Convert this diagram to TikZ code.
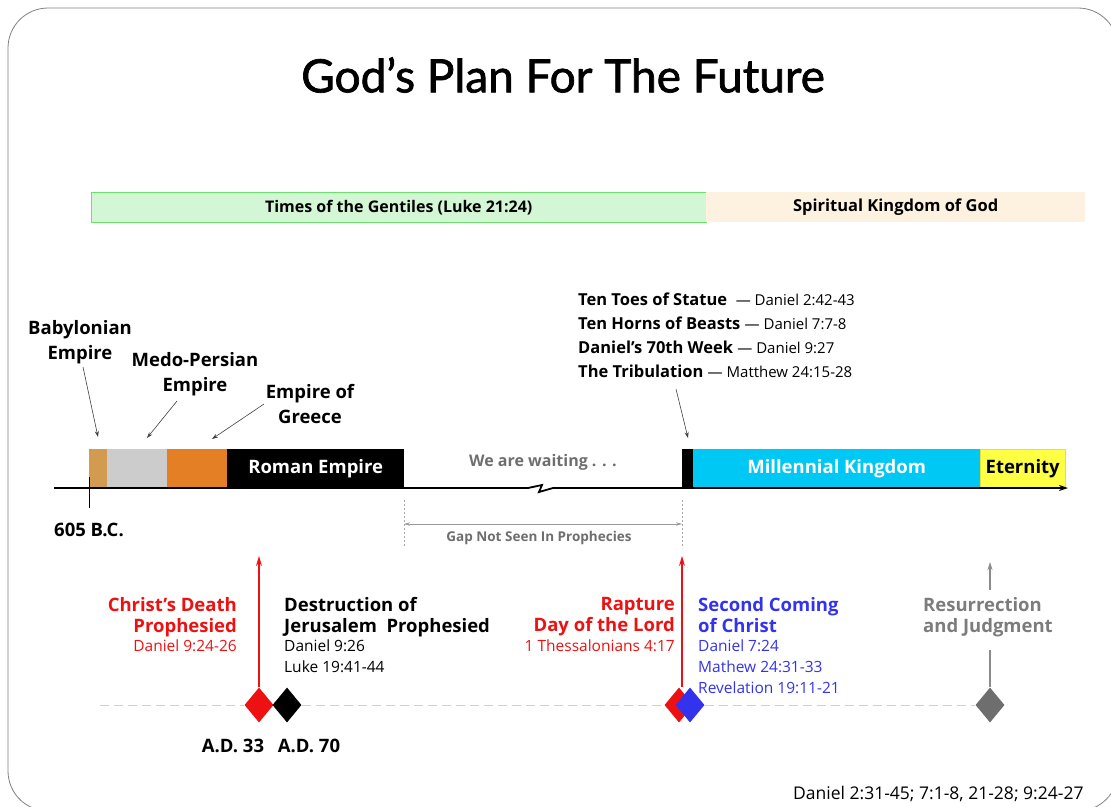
\documentclass[tikz,border=0pt]{standalone}
\usepackage{fontspec}
\setmainfont{Open Sans}
\newfontfamily\titlefont[UprightFeatures={FakeBold=1.5}]{Lato}
\usetikzlibrary{arrows.meta,shapes.geometric}
\definecolor{frame}{HTML}{808080}
\definecolor{gentgreen}{HTML}{D3F6D5}
\definecolor{gentedge}{HTML}{6BE06B}
\definecolor{kingbeige}{HTML}{FDF1DF}
\definecolor{babtan}{HTML}{D39B4F}
\definecolor{medogray}{HTML}{CCCCCC}
\definecolor{greekorange}{HTML}{E47F26}
\definecolor{millcyan}{HTML}{00C8F5}
\definecolor{eteryellow}{HTML}{FFFF44}
\definecolor{eteredge}{HTML}{E2E23A}
\definecolor{waitgray}{HTML}{6E6E6E}
\definecolor{prored}{HTML}{EE1111}
\definecolor{problue}{HTML}{3333EE}
\definecolor{dashgray}{HTML}{D0D0D0}
\newcommand{\passage}[1]{{\mdseries\fontsize{15}{24}\selectfont #1}}
\begin{document}
\begin{tikzpicture}[>=Stealth, x=1pt, y=-1pt, font=\fontsize{18.5}{25}\selectfont\bfseries,
  band/.style={minimum height=30pt, inner sep=0pt, anchor=north west, font=\fontsize{16}{20}\selectfont\bfseries},
  bar/.style={minimum height=39pt, inner sep=0pt, anchor=north west},
  lbl/.style={inner sep=0pt, align=center},
  evname/.style={inner sep=0pt, font=\fontsize{18.5}{21}\selectfont\bfseries},
  evref/.style={inner sep=0pt, font=\fontsize{15.5}{21}\selectfont},
  thin arrow/.style={->, draw=black!75, line width=0.6pt, >={Stealth[length=6pt,width=4pt]}},
  event/.style={diamond, aspect=0.8, minimum width=29pt, minimum height=35pt, inner sep=0pt},
  tall arrow/.style={->, line width=1.2pt, >={Stealth[length=10pt,width=6pt]}}]
\useasboundingbox (0,0) rectangle (1111,806);
\draw[frame, line width=0.8pt, rounded corners=40pt] (8,8) rectangle (1118,811);

% title and the two ages
\node[font=\titlefont\fontsize{46}{50}\selectfont] (title) at (563,75) {God’s Plan For The Future};
\node[band, fill=gentgreen, draw=gentedge, minimum width=615pt] (gentiles) at (91,192) {Times of the Gentiles (Luke 21:24)};
\node[band, fill=kingbeige, minimum width=379pt, font=\fontsize{16.5}{20}\selectfont\bfseries] (spirit) at (706,192) {Spiritual Kingdom of God};

% the time line
\coordinate (tstart) at (54,488);
\coordinate (tend) at (1068,488);
\node[bar, fill=babtan, minimum width=18pt] (bab) at (89,449) {};
\node[bar, fill=medogray, minimum width=60pt] (medo) at (107,449) {};
\node[bar, fill=greekorange, minimum width=60pt] (greek) at (167,449) {};
\node[bar, fill=black, minimum width=177pt, text=white] (rome) at (227,449) {Roman Empire};
\node[bar, fill=black, minimum width=11pt] (trib) at (682,449) {};
\node[bar, fill=millcyan, minimum width=287pt, text=white] (mill) at (693,449) {Millennial Kingdom};
\node[bar, fill=eteryellow, draw=eteredge, minimum width=85pt] (eter) at (980,449) {Eternity};
\node[waitgray, font=\fontsize{16}{20}\selectfont\bfseries] (wait) at (543,462) {We are waiting . . .};
\draw[line width=1.8pt, ->, >={Stealth[length=9pt,width=6pt]}] (tstart) -- (528,488) -- (542,485) -- (539,492) -- (553,488) -- (tend);
\draw[line width=1pt] (89,477) -- (89,508);
\node (bc) at (89,530) {605 B.C.};

% empires named above the bars
\node[lbl] (babname) at (80,342) {Babylonian\\Empire};
\node[lbl] (medoname) at (195,374) {Medo-Persian\\Empire};
\node[lbl] (greekname) at (310,404) {Empire of\\Greece};
\coordinate (babtip) at (98,437);
\coordinate (medotip) at (147,438);
\coordinate (greektip) at (212,439);
\draw[thin arrow] (83,367) -- (babtip);
\draw[thin arrow] (177,401) -- (medotip);
\draw[thin arrow] (264,404) -- (greektip);

\node[inner sep=0pt, align=left, anchor=north west, font=\fontsize{16.5}{24}\selectfont\bfseries] (signs) at (578,293)
  {Ten Toes of Statue~ \passage{— Daniel 2:42-43}\\
   Ten Horns of Beasts \passage{— Daniel 7:7-8}\\
   Daniel’s 70th Week \passage{— Daniel 9:27}\\
   The Tribulation \passage{— Matthew 24:15-28}};
\coordinate (tribtip) at (688,438);
\draw[thin arrow] (676,389) -- (tribtip);

% the gap
\coordinate (gapl) at (404,524);
\coordinate (gapr) at (682,524);
\draw[dashgray!80!black, line width=0.5pt, dash pattern=on 2pt off 2pt] (404,500) -- (404,548) (682,500) -- (682,548);
\draw[<->, waitgray!70, line width=0.7pt, >={Stealth[length=6pt,width=3.5pt]}] (gapl) -- (gapr);
\node[waitgray, font=\fontsize{13.5}{16}\selectfont\bfseries] (gap) at (539,538) {Gap Not Seen In Prophecies};

% events below
\coordinate (dstart) at (100,705);
\node[event, fill=prored] (death) at (259,705) {};
\node[event, fill=black] (ruin) at (287,705) {};
\node[event, fill=prored] (rapt) at (679,705) {};
\node[event, fill=problue] (second) at (690,705) {};
\node[event, fill=waitgray] (judg) at (990,705) {};
\draw[dashgray, line width=1pt, dash pattern=on 9pt off 5pt] (dstart) -- (death.west) (ruin.east) -- (rapt.west) (second.east) -- (judg.west);
\coordinate (deathtip) at (259,556);
\coordinate (rapttip) at (682,556);
\draw[tall arrow, prored] (death.north) -- (deathtip);
\draw[tall arrow, prored] (rapt.north -| rapttip) -- (rapttip);

\node[evname, prored, align=right, anchor=north east] (deathname) at (237,597) {Christ’s Death\\Prophesied};
\node[evref, prored, anchor=north east] (deathref) at (237,640) {Daniel 9:24-26};
\node[evname, align=left, anchor=north west] (ruinname) at (284,597) {Destruction of\\Jerusalem~ Prophesied};
\node[evref, align=left, anchor=north west] (ruinref) at (284,640) {Daniel 9:26\\Luke 19:41-44};
\node[evname, prored, align=right, anchor=north east] (raptname) at (675,597) {Rapture\\Day of the Lord};
\node[evref, prored, anchor=north east] (raptref) at (675,640) {1 Thessalonians 4:17};
\node[evname, problue, align=left, anchor=north west] (secondname) at (698,597) {Second Coming\\of Christ};
\node[evref, problue, align=left, anchor=north west] (secondref) at (698,640) {Daniel 7:24\\Mathew 24:31-33\\Revelation 19:11-21};
\node[evname, waitgray!90, align=left, anchor=north west] (judgname) at (923,597) {Resurrection\\and Judgment};
\coordinate (judgtip) at (990,562);
\draw[->, waitgray!80, line width=1.2pt, >={Stealth[length=8pt,width=5pt]}] (990,590) -- (judgtip);
\draw[waitgray!80, line width=1.2pt] (990,650) -- (judg.north);

\node (ad33) at (233,746) {A.D. 33};
\node (ad70) at (309,746) {A.D. 70};
\node[anchor=base east, font=\fontsize{17.5}{20}\selectfont] (sources) at (1087,799) {Daniel 2:31-45; 7:1-8, 21-28; 9:24-27};
\end{tikzpicture}
\end{document}
